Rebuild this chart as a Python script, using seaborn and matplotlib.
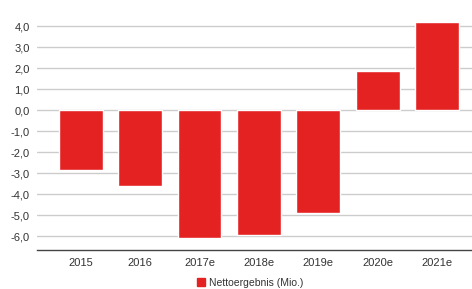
import pandas as pd
import matplotlib
matplotlib.use('Agg')
import matplotlib.pyplot as plt
import seaborn as sns
from matplotlib.patches import Patch
from matplotlib.ticker import FuncFormatter

years = ['2015', '2016', '2017e', '2018e', '2019e', '2020e', '2021e']
nettoergebnis = [-2.85, -3.62, -6.1, -5.92, -4.9, 1.86, 4.2]
yticks = [-6, -5, -4, -3, -2, -1, 0, 1, 2, 3, 4]
legend_label = 'Nettoergebnis (Mio.)'

sns.set_style('white')
plt.rcParams['font.family'] = ['Liberation Sans', 'DejaVu Sans']

df = pd.DataFrame({'jahr': years, 'wert': nettoergebnis})
red = '#e52222'

fig = plt.figure(figsize=(4.72, 2.89), dpi=100)
ax = fig.add_axes([0.078, 0.135, 0.922, 0.8186])

sns.barplot(data=df, x='jahr', y='wert', color=red, width=0.74,
            saturation=1, ax=ax, zorder=3)

ax.set_xlim(-0.74, 6.59)
ax.set_ylim(-6.65, 4.6)
ax.set_yticks(yticks)
ax.yaxis.set_major_formatter(FuncFormatter(lambda v, p: f'{v:.1f}'.replace('.', ',')))
ax.grid(axis='y', color='#cccccc', linewidth=1, zorder=0)
ax.set_xlabel('')
ax.set_ylabel('')
ax.tick_params(axis='both', length=0, labelsize=8, colors='#333333', pad=5)
ax.tick_params(axis='x', pad=6)

for side in ['top', 'right', 'left']:
    ax.spines[side].set_visible(False)
ax.spines['bottom'].set_color('#444444')
ax.spines['bottom'].set_linewidth(1)

handle = Patch(facecolor=red, edgecolor=red)
fig.legend([handle], [legend_label], loc='center', bbox_to_anchor=(0.53, 0.022),
           frameon=False, fontsize=7.5, handlelength=0.8, handleheight=0.8,
           handletextpad=0.4, labelcolor='#333333')

fig.savefig('out.png', dpi=100)
